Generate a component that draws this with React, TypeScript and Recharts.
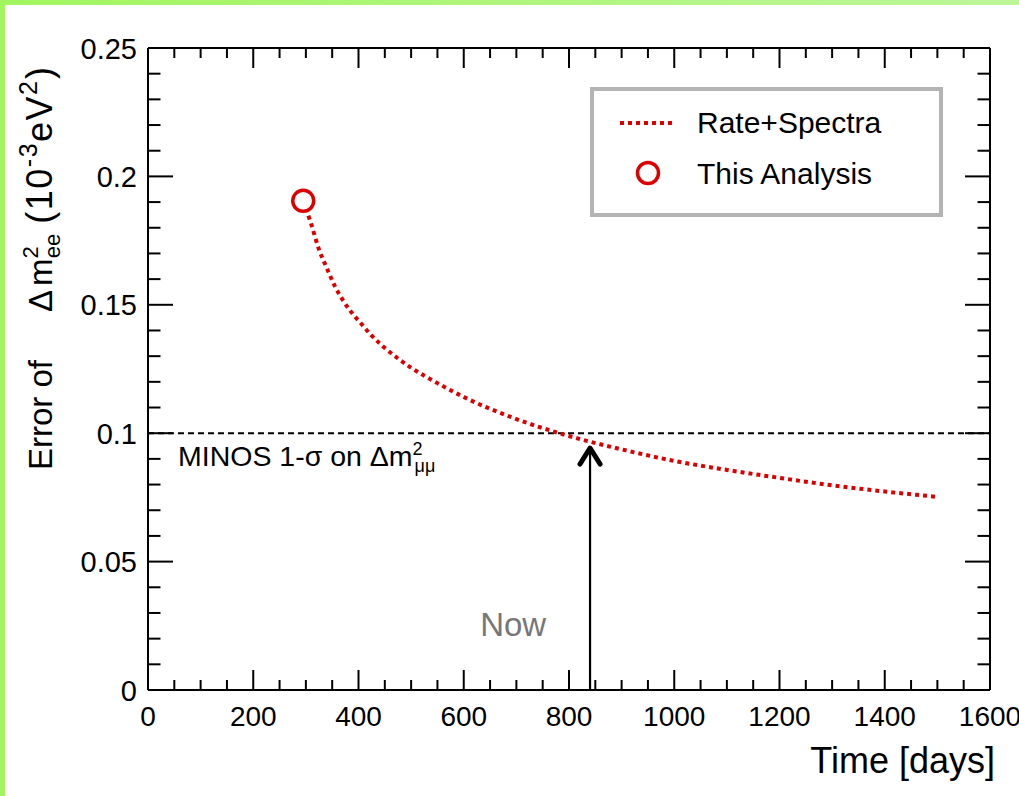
import React from 'react';
import { ComposedChart, Line, Scatter, XAxis, YAxis, ReferenceLine, ReferenceDot } from 'recharts';

// ---- data ----
const days = [295, 310, 325, 340, 355, 370, 385, 405, 425, 450, 475, 500, 550, 600, 700, 800, 900, 1000, 1100, 1200, 1300, 1400, 1500];
const rateSpectraError = [0.1905, 0.1815, 0.1715, 0.1642, 0.1573, 0.1519, 0.1475, 0.1427, 0.1380, 0.1332, 0.1291, 0.1255, 0.1195, 0.1141, 0.1055, 0.0989, 0.0937, 0.0892, 0.0857, 0.0826, 0.0797, 0.0773, 0.0752];
const thisAnalysisDay = [295];
const thisAnalysisError = [0.1905];
const minosError = 0.1;
const nowDay = 840;
const nowArrowTip = 0.0954;
const nowLabelPos = { day: 694, err: 0.021 };

const xTicks = [0, 50, 100, 150, 200, 250, 300, 350, 400, 450, 500, 550, 600, 650, 700, 750, 800, 850, 900, 950, 1000, 1050, 1100, 1150, 1200, 1250, 1300, 1350, 1400, 1450, 1500, 1550, 1600];
const xMajor = [0, 200, 400, 600, 800, 1000, 1200, 1400, 1600];
const yTicks = [0, 0.01, 0.02, 0.03, 0.04, 0.05, 0.06, 0.07, 0.08, 0.09, 0.1, 0.11, 0.12, 0.13, 0.14, 0.15, 0.16, 0.17, 0.18, 0.19, 0.2, 0.21, 0.22, 0.23, 0.24, 0.25];
const yMajor = [0, 0.05, 0.1, 0.15, 0.2, 0.25];

const curve = days.map((d, i) => ({ day: d, err: rateSpectraError[i] }));
const analysis = thisAnalysisDay.map((d, i) => ({ day: d, err: thisAnalysisError[i] }));

const RED = '#dd0000';
const FONT = '"Liberation Sans", Arial, Helvetica, sans-serif';

const XTickBottom = (p: any) => {
  const { x, y, payload } = p;
  const major = xMajor.includes(payload.value);
  return (
    <g>
      <line x1={x} x2={x} y1={y} y2={y - (major ? 20 : 10)} stroke="#000" strokeWidth={2} />
      {major && (
        <text x={x} y={y + 36} textAnchor="middle" fontSize={28} fontFamily={FONT} fill="#000">
          {payload.value}
        </text>
      )}
    </g>
  );
};
const XTickTop = (p: any) => {
  const { x, y, payload } = p;
  const major = xMajor.includes(payload.value);
  return <line x1={x} x2={x} y1={y} y2={y + (major ? 20 : 10)} stroke="#000" strokeWidth={2} />;
};
const YTickLeft = (p: any) => {
  const { x, y, payload } = p;
  const major = yMajor.includes(payload.value);
  return (
    <g>
      <line x1={x} x2={x + (major ? 25 : 12.5)} y1={y} y2={y} stroke="#000" strokeWidth={2} />
      {major && (
        <text x={x - 11} y={y + 10.5} textAnchor="end" fontSize={29} fontFamily={FONT} fill="#000">
          {String(payload.value)}
        </text>
      )}
    </g>
  );
};
const YTickRight = (p: any) => {
  const { x, y, payload } = p;
  const major = yMajor.includes(payload.value);
  return <line x1={x} x2={x - (major ? 25 : 12.5)} y1={y} y2={y} stroke="#000" strokeWidth={2} />;
};

const renderYTitle = (p: any) => {
  const vb = p.viewBox || { x: 147, y: 48, width: 1 };
  const x = vb.x + (vb.width || 0) - 96;
  const y = 470;
  return (
    <text x={x} y={y} transform={`rotate(-90 ${x} ${y})`} textAnchor="start" fontSize={33} fontFamily={FONT} fill="#000">
      <tspan>Error of</tspan>
      <tspan dx={48}>Δ</tspan>
      <tspan dx={4}>m</tspan>
      <tspan fontSize={22} dy={-14}>2</tspan>
      <tspan fontSize={22} dx={-12} dy={22}>ee</tspan>
      <tspan fontSize={36} letterSpacing={1.5} dy={-8} dx={10}>(10</tspan>
      <tspan fontSize={25} letterSpacing={1.5} dy={-15}>-3</tspan>
      <tspan fontSize={36} letterSpacing={1.5} dy={15}>eV</tspan>
      <tspan fontSize={25} dy={-15}>2</tspan>
      <tspan fontSize={36} dx={2} dy={15}>)</tspan>
    </text>
  );
};

const renderXTitle = (p: any) => {
  const vb = p.viewBox || { x: 148, y: 690, width: 842 };
  return (
    <text x={vb.x + vb.width + 5} y={vb.y + 83} textAnchor="end" fontSize={36} fontFamily={FONT} fill="#000">
      Time [days]
    </text>
  );
};

const renderMinosLabel = (p: any) => {
  const vb = p.viewBox || { x: 148, y: 434 };
  return (
    <text x={vb.x + 30} y={vb.y + 33} fontSize={28.5} fontFamily={FONT} fill="#000">
      <tspan>MINOS 1-σ on Δm</tspan>
      <tspan fontSize={18} dy={-11}>2</tspan>
      <tspan fontSize={18} dx={-8} dy={17}>μμ</tspan>
    </text>
  );
};

const ArrowShape = (p: any) => {
  const { x1, y1, y2 } = p;
  const tipY = Math.min(y1, y2);
  const baseY = Math.max(y1, y2);
  const x = x1;
  return (
    <g>
      <line x1={x} y1={baseY} x2={x} y2={tipY + 2} stroke="#000" strokeWidth={2.2} />
      <polyline points={`${x - 10},${tipY + 19} ${x},${tipY + 3} ${x + 10},${tipY + 19}`} fill="none" stroke="#000" strokeWidth={5} strokeLinecap="round" strokeLinejoin="round" />
    </g>
  );
};

const NowShape = (p: any) => (
  <text x={p.cx} y={p.cy} textAnchor="middle" fontSize={33} fontFamily={FONT} fill="#777777">Now</text>
);

const CircleShape = (p: any) => (
  <circle cx={p.cx} cy={p.cy} r={10.5} fill="#fff" stroke={RED} strokeWidth={3.5} />
);

export default function App() {
  return (
    <div style={{ position: 'absolute', left: 0, top: 0, width: 1019, height: 796, background: '#fff', overflow: 'hidden' }}>
      <div style={{ position: 'absolute', left: 0, top: 0, width: 1019, height: 5, background: 'linear-gradient(to right, #a2f55f, #bdf69a)' }} />
      <div style={{ position: 'absolute', left: 0, top: 0, width: 5, height: 796, background: '#a2f55f' }} />
      <div style={{ position: 'absolute', left: 0, top: 0 }}>
        <ComposedChart width={1019} height={796} margin={{ top: 47, right: 28, bottom: 105, left: 147 }}>
          <XAxis xAxisId="bottom" dataKey="day" type="number" domain={[0, 1600]} ticks={xTicks} interval={0}
            allowDataOverflow height={1} tickSize={0} tickMargin={0} tickLine={false}
            axisLine={{ stroke: '#000', strokeWidth: 2 }} tick={<XTickBottom />} label={{ content: renderXTitle }} />
          <XAxis xAxisId="top" orientation="top" dataKey="day" type="number" domain={[0, 1600]} ticks={xTicks} interval={0}
            allowDataOverflow height={1} tickSize={0} tickMargin={0} tickLine={false}
            axisLine={{ stroke: '#000', strokeWidth: 2 }} tick={<XTickTop />} />
          <YAxis yAxisId="left" dataKey="err" type="number" domain={[0, 0.25]} ticks={yTicks} interval={0}
            allowDataOverflow width={1} tickSize={0} tickMargin={0} tickLine={false}
            axisLine={{ stroke: '#000', strokeWidth: 2 }} tick={<YTickLeft />} label={{ content: renderYTitle }} />
          <YAxis yAxisId="right" orientation="right" dataKey="err" type="number" domain={[0, 0.25]} ticks={yTicks} interval={0}
            allowDataOverflow width={1} tickSize={0} tickMargin={0} tickLine={false}
            axisLine={{ stroke: '#000', strokeWidth: 2 }} tick={<YTickRight />} />
          <ReferenceLine xAxisId="bottom" yAxisId="left" y={minosError} stroke="#000" strokeWidth={2}
            strokeDasharray="6 4" label={{ content: renderMinosLabel }} />
          <ReferenceLine xAxisId="bottom" yAxisId="left"
            segment={[{ x: nowDay, y: 0 }, { x: nowDay, y: nowArrowTip }]} shape={ArrowShape} />
          <ReferenceDot xAxisId="bottom" yAxisId="left" x={nowLabelPos.day} y={nowLabelPos.err} r={0} shape={NowShape} />
          <Line xAxisId="bottom" yAxisId="left" data={curve} dataKey="err" type="monotone" stroke={RED}
            strokeWidth={4} strokeDasharray="4 4" dot={false} activeDot={false} isAnimationActive={false} />
          <Scatter xAxisId="top" yAxisId="right" data={analysis} dataKey="err" shape={CircleShape} isAnimationActive={false} />
        </ComposedChart>
      </div>
      <svg style={{ position: 'absolute', left: 590, top: 87 }} width={354} height={130}>
        <rect x={2} y={2} width={349} height={126} fill="#fff" stroke="#b4b4b4" strokeWidth={4} />
        <line x1={30} x2={83} y1={36} y2={36} stroke={RED} strokeWidth={4} strokeDasharray="4 4" />
        <text x={107} y={46} fontSize={30} fontFamily={FONT} fill="#000">Rate+Spectra</text>
        <circle cx={58} cy={86} r={10.5} fill="#fff" stroke={RED} strokeWidth={3.5} />
        <text x={107} y={97} fontSize={30} fontFamily={FONT} fill="#000">This Analysis</text>
      </svg>
    </div>
  );
}
